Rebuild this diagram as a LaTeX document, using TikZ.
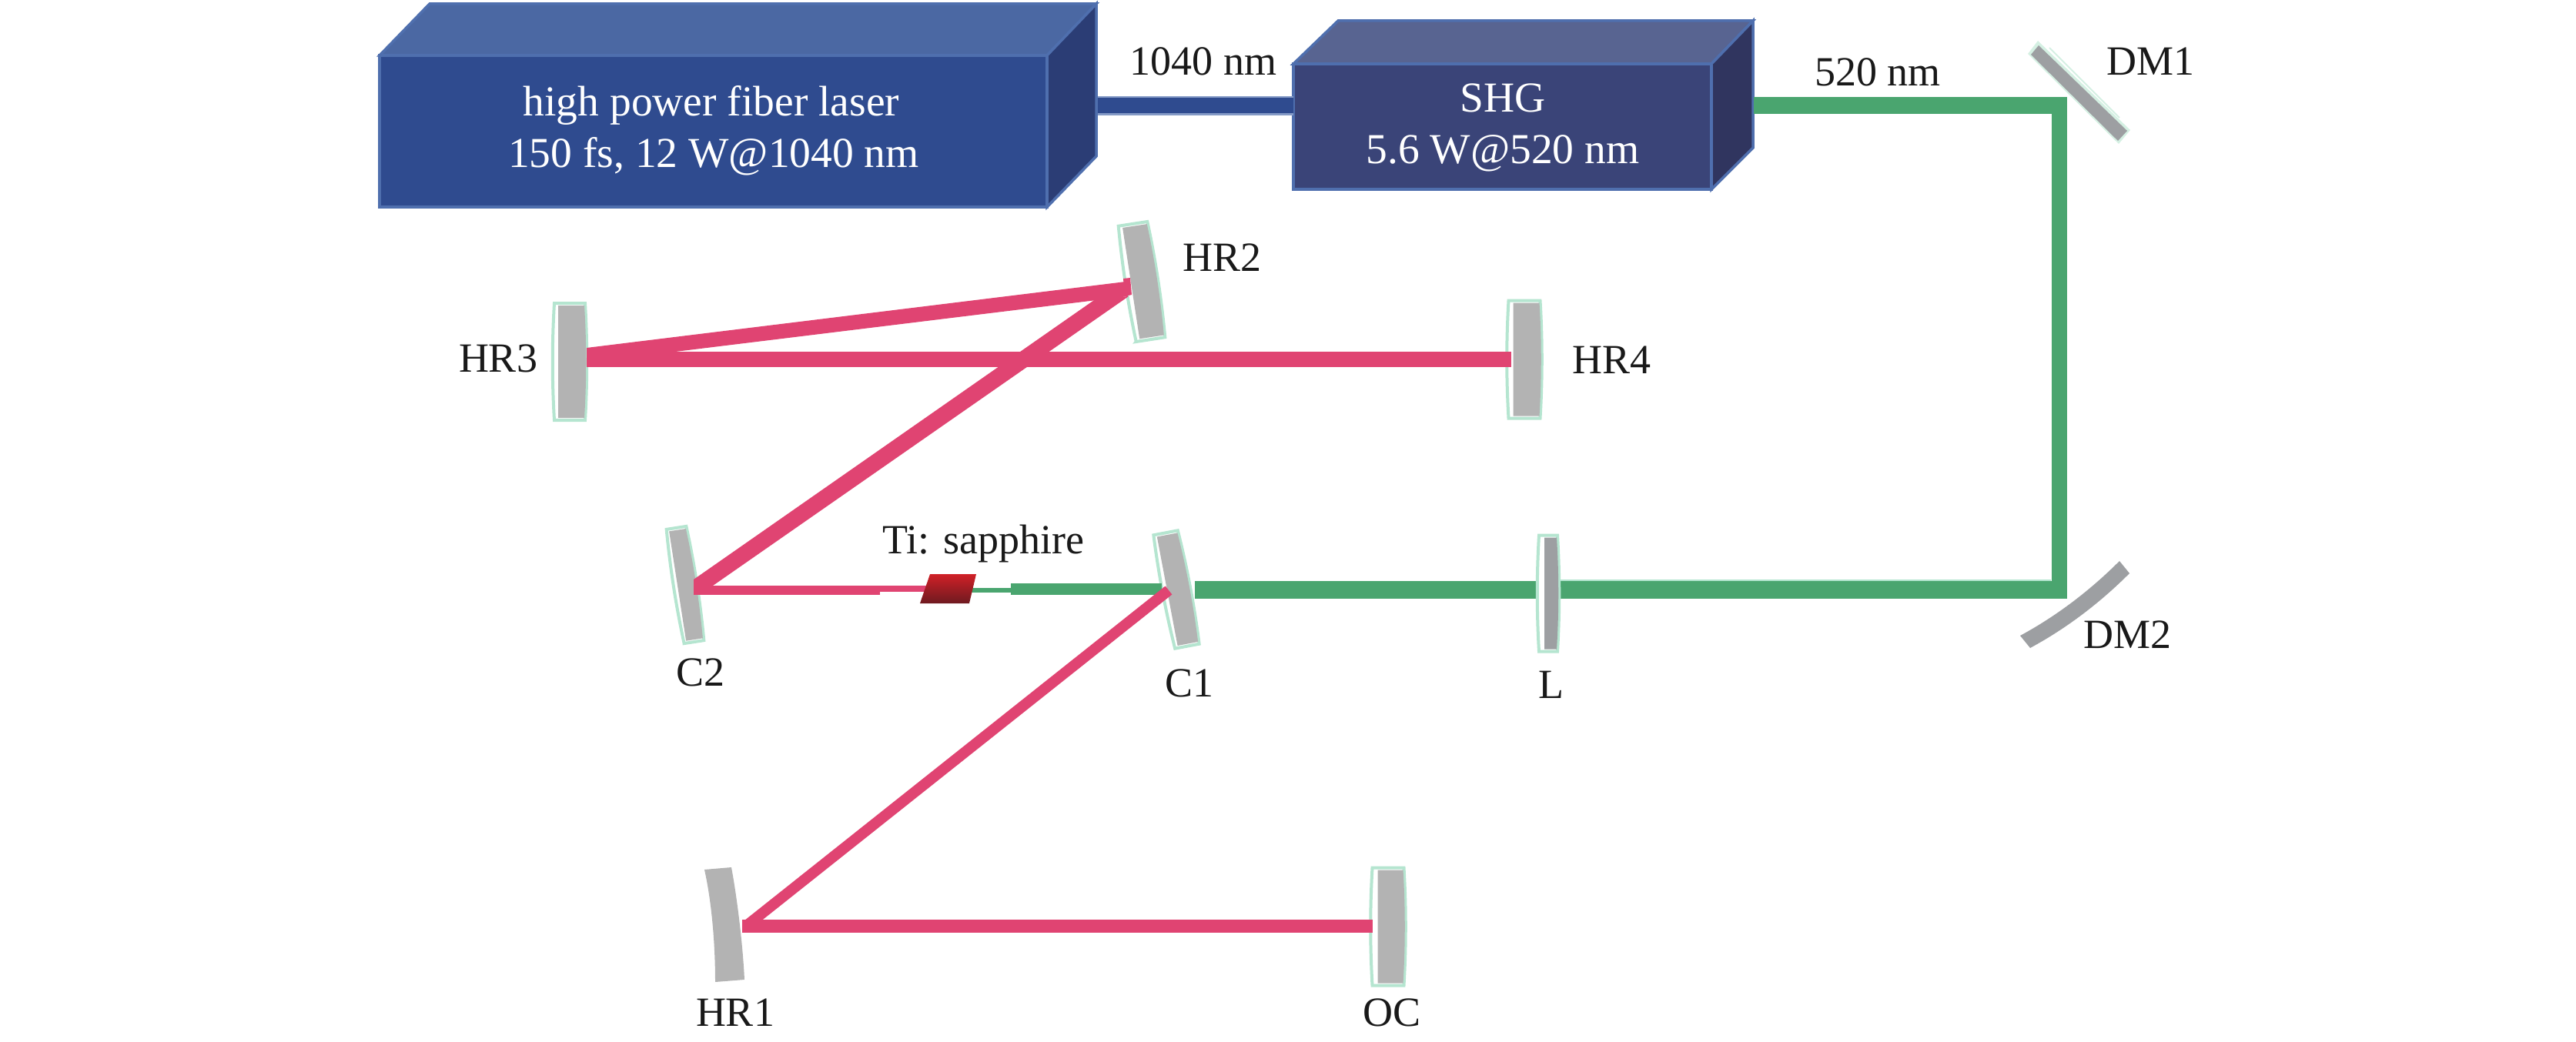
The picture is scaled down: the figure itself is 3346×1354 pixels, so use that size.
\documentclass[tikz,border=0pt]{standalone}
\usepackage{fontspec}
\setmainfont{Liberation Serif}
\definecolor{pinkb}{HTML}{E04472}
\definecolor{greenb}{HTML}{4AA56F}
\definecolor{greyl}{HTML}{B3B3B3}
\definecolor{greyd}{HTML}{9D9FA2}
\definecolor{rim}{HTML}{B5E5D0}
\definecolor{rimp}{HTML}{D5F0E3}
\definecolor{edgeb}{HTML}{4F6FAE}
\definecolor{lfront}{HTML}{2F4B8F}
\definecolor{ltop}{HTML}{4B68A3}
\definecolor{lside}{HTML}{2B3D75}
\definecolor{sfront}{HTML}{3A4478}
\definecolor{stop}{HTML}{586491}
\definecolor{sside}{HTML}{30355F}
\definecolor{xtop}{HTML}{D02027}
\definecolor{xbot}{HTML}{6E1A20}
\tikzset{
  lbl/.style={anchor=base,inner sep=0pt,outer sep=0pt,text=black!90,font=\fontsize{54}{62}\selectfont},
  wlbl/.style={lbl,text=white,font=\fontsize{55.5}{62}\selectfont},
  boxface/.style={draw=edgeb,line width=3.5pt,line join=miter},
  pinkbeam/.style={draw=pinkb,line cap=butt},
  greenbeam/.style={draw=greenb,line cap=butt,line join=miter},
  pinkpoly/.style={fill=pinkb,draw=none},
}
\newcommand{\mirrorlens}[7]{%
  \begin{scope}[shift={(#1,#2)},rotate=#3]
    \fill[white,draw=rim,line width=4pt]
      ({-#4/2+3},{#5/2}) -- ({#4/2-3},{#5/2})
      .. controls ({#4/2},{#5/6}) and ({#4/2},{-#5/6}) .. ({#4/2-3},{-#5/2})
      -- ({-#4/2+3},{-#5/2})
      .. controls ({-#4/2},{-#5/6}) and ({-#4/2},{#5/6}) .. cycle;
    \fill[#7]
      ({-#4/2+#6},{#5/2-3}) -- ({#4/2-4},{#5/2-3})
      .. controls ({#4/2-1},{#5/6}) and ({#4/2-1},{-#5/6}) .. ({#4/2-4},{-#5/2+3})
      -- ({-#4/2+#6},{-#5/2+3}) -- cycle;
  \end{scope}}
\begin{document}
\begin{tikzpicture}[x=1pt,y=-1pt]
\useasboundingbox (0,0) rectangle (3346,1354);
% laser box
\fill[ltop,boxface] (493,72) -- (558,5) -- (1424,5) -- (1360,72) -- cycle;
\fill[lside,boxface] (1360,72) -- (1424,5) -- (1424,203) -- (1360,269) -- cycle;
\fill[lfront,boxface] (493,72) rectangle (1360,269);
% SHG box
\fill[stop,boxface] (1680,83) -- (1738,27) -- (2277,27) -- (2223,83) -- cycle;
\fill[sside,boxface] (2223,83) -- (2277,27) -- (2277,192) -- (2223,246) -- cycle;
\fill[sfront,boxface] (1680,83) rectangle (2223,246);
% 1040 nm beam
\coordinate (laserout) at (1426,137);
\coordinate (shgin) at (1680,137);
\draw[draw=edgeb!70!white,line width=25pt] (laserout) -- (shgin);
\draw[draw=lfront,line width=20pt] (laserout) -- (shgin);
% mirrors
\mirrorlens{740}{470}{0}{46}{152}{8}{greyl}
\mirrorlens{1483}{366}{8.7}{44}{152}{8}{greyl}
\mirrorlens{1980}{467}{0}{47}{153}{9}{greyl}
\mirrorlens{890}{760}{8.8}{32}{150}{6}{greyl}
\mirrorlens{1528}{766}{10.7}{38}{150}{7}{greyl}
\mirrorlens{1803}{1204}{0}{47}{153}{10}{greyl}
% HR1
\fill[greyl] (915,1130) -- (950,1127) .. controls (958,1170) and (965,1230) .. (967,1273)
  -- (929,1276) .. controls (929,1230) and (925,1175) .. cycle;
% DM1
\fill[rimp] (2647,53) -- (2634,70) -- (2752,187) -- (2767,169) -- cycle;
\fill[greyd] (2648,59) -- (2638,71) -- (2751,183) -- (2763,170) -- cycle;
\draw[rimp,line width=2pt] (2662,62) -- (2753,153);
% DM2
\fill[greyd] (2753,729) -- (2766,745) .. controls (2728,783) and (2685,816) .. (2637,842)
  -- (2624,826) .. controls (2672,800) and (2715,767) .. cycle;
% green beam
\coordinate (shgout) at (2278,137);
\coordinate (dmone) at (2675,137);
\coordinate (dmtwo) at (2675,766.5);
\coordinate (lensb) at (1552,766.5);
\draw[greenbeam,line width=22pt] (shgout) -- (2685,137);
\draw[greenbeam,line width=20pt] (dmone) -- (2675,778);
\draw[greenbeam,line width=23pt] (2685,766.5) -- (lensb);
\draw[rim,line width=2pt] (2664,754) -- (2010,754);
\coordinate (cairight) at (1509,765.5);
\coordinate (cailft) at (1313,765.5);
\coordinate (xtalr) at (1255,767);
\draw[greenbeam,line width=15pt] (cailft) -- (cairight);
\draw[greenbeam,line width=6pt] (xtalr) -- (1313,767);
% lens on top of green
\mirrorlens{2011}{771}{0}{30}{151}{10}{greyd}
% pink beams
\coordinate (hrfour) at (1963,467);
\coordinate (hrthree) at (762,467);
\draw[pinkbeam,line width=20pt] (hrthree) -- (hrfour);
\fill[pinkpoly] (762,452) -- (1462,366) -- (1465,385) -- (869,458) -- (762,472) -- cycle;
\fill[pinkb] (1459,362) -- (1468,361) -- (1470,383) -- (1461,385) -- cycle;
\fill[pinkpoly] (901,753) -- (1424,388) -- (1466,385) -- (926,761) -- (901,773) -- cycle;
\coordinate (ctwo) at (901,767);
\coordinate (tistep) at (1143,767);
\coordinate (xtall) at (1205,765);
\draw[pinkbeam,line width=12pt] (ctwo) -- (tistep);
\draw[pinkbeam,line width=8pt] (1143,765) -- (xtall);
\coordinate (cone) at (1518,767);
\coordinate (hrone) at (972,1201);
\draw[pinkbeam,line width=14pt] (cone) -- (hrone);
\coordinate (hronel) at (964,1203.5);
\coordinate (ocin) at (1783,1203.5);
\draw[pinkbeam,line width=17pt] (hronel) -- (ocin);
% crystal
\shade[top color=xtop,bottom color=xbot] (1208,746) -- (1268,746) -- (1259,784) -- (1195,784) -- cycle;
% labels
\node[wlbl] (lasera) at (924,150) {high power fiber laser};
\node[wlbl] (laserb) at (927,217) {150 fs, 12 W@1040 nm};
\node[wlbl] (shga) at (1952,145) {SHG};
\node[wlbl] (shgb) at (1952,212) {5.6 W@520 nm};
\node[lbl] (nmir) at (1563,97) {1040 nm};
\node[lbl] (nmgr) at (2439,111) {520 nm};
\node[lbl] (ldmone) at (2793,97) {DM1};
\node[lbl] (ldmtwo) at (2763,842) {DM2};
\node[lbl] (lhrtwo) at (1587,352) {HR2};
\node[lbl] (lhrthree) at (647,483) {HR3};
\node[lbl] (lhrfour) at (2093,485) {HR4};
\node[lbl] (lti) at (1277,719) {Ti: sapphire};
\node[lbl] (lctwo) at (910,891) {C2};
\node[lbl] (lcone) at (1545,905) {C1};
\node[lbl] (llens) at (2015,907) {L};
\node[lbl] (lhrone) at (955,1333) {HR1};
\node[lbl] (loc) at (1808,1333) {OC};
\end{tikzpicture}
\end{document}
